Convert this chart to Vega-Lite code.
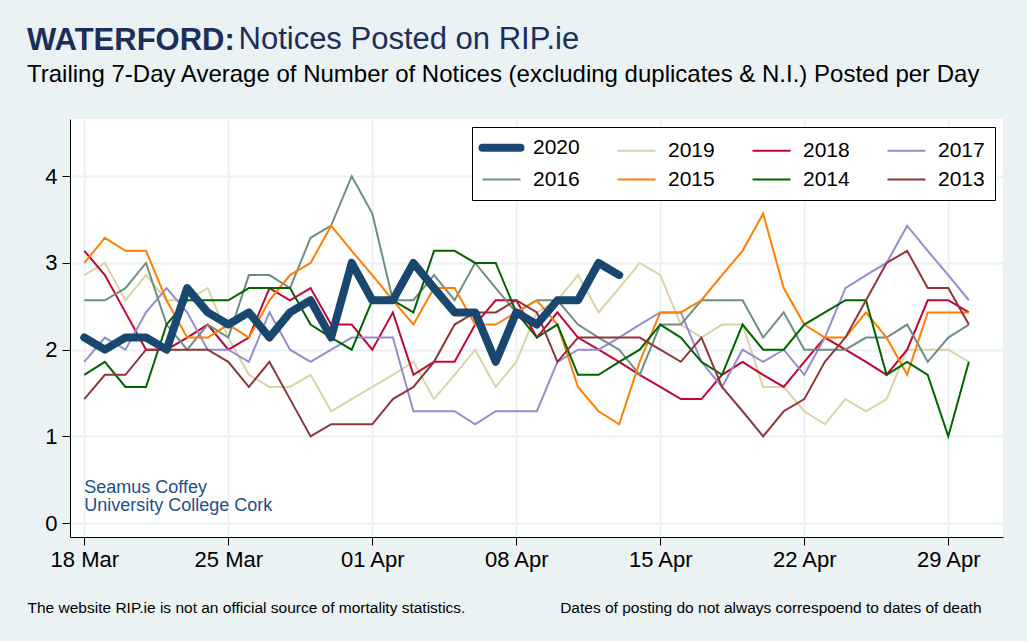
{
  "$schema": "https://vega.github.io/schema/vega-lite/v6.json",
  "width": 933,
  "height": 418,
  "autosize": {"type": "none"},
  "padding": {"left": 70, "top": 119, "right": 24, "bottom": 104},
  "background": "#eaf2f3",
  "title": {
    "text": "WATERFORD:",
    "subtitle": "Trailing 7-Day Average of Number of Notices (excluding duplicates & N.I.) Posted per Day",
    "anchor": "start",
    "frame": "group",
    "dx": -43,
    "offset": -65,
    "font": "Liberation Sans",
    "subtitleFont": "Liberation Sans",
    "fontSize": 31,
    "fontWeight": "bold",
    "color": "#1c2e5c",
    "subtitleFontSize": 24,
    "subtitleColor": "black",
    "subtitlePadding": 6
  },
  "datasets": {
    "notices": [
      {"date": "2020-03-18", "2020": 2.14, "2019": 2.86, "2018": 3.14, "2017": 1.86, "2016": 2.57, "2015": 3.00, "2014": 1.71, "2013": 1.43},
      {"date": "2020-03-19", "2020": 2.00, "2019": 3.00, "2018": 2.86, "2017": 2.14, "2016": 2.57, "2015": 3.29, "2014": 1.86, "2013": 1.71},
      {"date": "2020-03-20", "2020": 2.14, "2019": 2.57, "2018": 2.43, "2017": 2.00, "2016": 2.71, "2015": 3.14, "2014": 1.57, "2013": 1.71},
      {"date": "2020-03-21", "2020": 2.14, "2019": 2.86, "2018": 2.00, "2017": 2.43, "2016": 3.00, "2015": 3.14, "2014": 1.57, "2013": 2.00},
      {"date": "2020-03-22", "2020": 2.00, "2019": 2.57, "2018": 2.00, "2017": 2.71, "2016": 2.29, "2015": 2.57, "2014": 2.29, "2013": 2.00},
      {"date": "2020-03-23", "2020": 2.71, "2019": 2.57, "2018": 2.14, "2017": 2.43, "2016": 2.00, "2015": 2.14, "2014": 2.57, "2013": 2.00},
      {"date": "2020-03-24", "2020": 2.43, "2019": 2.71, "2018": 2.29, "2017": 2.00, "2016": 2.29, "2015": 2.14, "2014": 2.57, "2013": 2.00},
      {"date": "2020-03-25", "2020": 2.29, "2019": 2.14, "2018": 2.00, "2017": 2.00, "2016": 2.14, "2015": 2.29, "2014": 2.57, "2013": 1.86},
      {"date": "2020-03-26", "2020": 2.43, "2019": 1.71, "2018": 2.14, "2017": 1.86, "2016": 2.86, "2015": 2.14, "2014": 2.71, "2013": 1.57},
      {"date": "2020-03-27", "2020": 2.14, "2019": 1.57, "2018": 2.71, "2017": 2.43, "2016": 2.86, "2015": 2.57, "2014": 2.71, "2013": 1.86},
      {"date": "2020-03-28", "2020": 2.43, "2019": 1.57, "2018": 2.57, "2017": 2.00, "2016": 2.71, "2015": 2.86, "2014": 2.71, "2013": 1.43},
      {"date": "2020-03-29", "2020": 2.57, "2019": 1.71, "2018": 2.71, "2017": 1.86, "2016": 3.29, "2015": 3.00, "2014": 2.29, "2013": 1.00},
      {"date": "2020-03-30", "2020": 2.14, "2019": 1.29, "2018": 2.29, "2017": 2.00, "2016": 3.43, "2015": 3.43, "2014": 2.14, "2013": 1.14},
      {"date": "2020-03-31", "2020": 3.00, "2019": 1.43, "2018": 2.29, "2017": 2.14, "2016": 4.00, "2015": 3.14, "2014": 2.00, "2013": 1.14},
      {"date": "2020-04-01", "2020": 2.57, "2019": 1.57, "2018": 2.00, "2017": 2.14, "2016": 3.57, "2015": 2.86, "2014": 2.57, "2013": 1.14},
      {"date": "2020-04-02", "2020": 2.57, "2019": 1.71, "2018": 2.43, "2017": 2.14, "2016": 2.57, "2015": 2.57, "2014": 2.57, "2013": 1.43},
      {"date": "2020-04-03", "2020": 3.00, "2019": 1.86, "2018": 1.71, "2017": 1.29, "2016": 2.57, "2015": 2.29, "2014": 2.43, "2013": 1.57},
      {"date": "2020-04-04", "2020": 2.71, "2019": 1.43, "2018": 1.86, "2017": 1.29, "2016": 2.86, "2015": 2.71, "2014": 3.14, "2013": 1.86},
      {"date": "2020-04-05", "2020": 2.43, "2019": 1.71, "2018": 1.86, "2017": 1.29, "2016": 2.57, "2015": 2.71, "2014": 3.14, "2013": 2.29},
      {"date": "2020-04-06", "2020": 2.43, "2019": 2.00, "2018": 2.29, "2017": 1.14, "2016": 3.00, "2015": 2.29, "2014": 3.00, "2013": 2.43},
      {"date": "2020-04-07", "2020": 1.86, "2019": 1.57, "2018": 2.57, "2017": 1.29, "2016": 2.71, "2015": 2.29, "2014": 3.00, "2013": 2.43},
      {"date": "2020-04-08", "2020": 2.43, "2019": 1.86, "2018": 2.57, "2017": 1.29, "2016": 2.43, "2015": 2.43, "2014": 2.43, "2013": 2.57},
      {"date": "2020-04-09", "2020": 2.29, "2019": 2.43, "2018": 2.14, "2017": 1.29, "2016": 2.57, "2015": 2.57, "2014": 2.14, "2013": 2.43},
      {"date": "2020-04-10", "2020": 2.57, "2019": 2.57, "2018": 2.43, "2017": 1.86, "2016": 2.57, "2015": 2.29, "2014": 2.29, "2013": 1.86},
      {"date": "2020-04-11", "2020": 2.57, "2019": 2.86, "2018": 2.14, "2017": 2.00, "2016": 2.29, "2015": 1.57, "2014": 1.71, "2013": 2.14},
      {"date": "2020-04-12", "2020": 3.00, "2019": 2.43, "2018": 2.00, "2017": 2.00, "2016": 2.14, "2015": 1.29, "2014": 1.71, "2013": 2.14},
      {"date": "2020-04-13", "2020": 2.86, "2019": 2.71, "2018": 1.86, "2017": 2.14, "2016": 2.00, "2015": 1.14, "2014": 1.86, "2013": 2.14},
      {"date": "2020-04-14", "2019": 3.00, "2018": 1.71, "2017": 2.29, "2016": 1.71, "2015": 1.86, "2014": 2.00, "2013": 2.14},
      {"date": "2020-04-15", "2019": 2.86, "2018": 1.57, "2017": 2.43, "2016": 2.29, "2015": 2.43, "2014": 2.29, "2013": 2.00},
      {"date": "2020-04-16", "2019": 2.29, "2018": 1.43, "2017": 2.43, "2016": 2.29, "2015": 2.43, "2014": 2.14, "2013": 1.86},
      {"date": "2020-04-17", "2019": 2.14, "2018": 1.43, "2017": 1.86, "2016": 2.57, "2015": 2.57, "2014": 1.86, "2013": 2.14},
      {"date": "2020-04-18", "2019": 2.29, "2018": 1.71, "2017": 1.57, "2016": 2.57, "2015": 2.86, "2014": 1.71, "2013": 1.57},
      {"date": "2020-04-19", "2019": 2.29, "2018": 1.86, "2017": 2.00, "2016": 2.57, "2015": 3.14, "2014": 2.29, "2013": 1.29},
      {"date": "2020-04-20", "2019": 1.57, "2018": 1.71, "2017": 1.86, "2016": 2.14, "2015": 3.57, "2014": 2.00, "2013": 1.00},
      {"date": "2020-04-21", "2019": 1.57, "2018": 1.57, "2017": 2.00, "2016": 2.43, "2015": 2.71, "2014": 2.00, "2013": 1.29},
      {"date": "2020-04-22", "2019": 1.29, "2018": 1.86, "2017": 1.71, "2016": 2.00, "2015": 2.29, "2014": 2.29, "2013": 1.43},
      {"date": "2020-04-23", "2019": 1.14, "2018": 2.14, "2017": 2.14, "2016": 2.00, "2015": 2.14, "2014": 2.43, "2013": 1.86},
      {"date": "2020-04-24", "2019": 1.43, "2018": 2.00, "2017": 2.71, "2016": 2.00, "2015": 2.14, "2014": 2.57, "2013": 2.14},
      {"date": "2020-04-25", "2019": 1.29, "2018": 1.86, "2017": 2.86, "2016": 2.14, "2015": 2.43, "2014": 2.57, "2013": 2.57},
      {"date": "2020-04-26", "2019": 1.43, "2018": 1.71, "2017": 3.00, "2016": 2.14, "2015": 2.14, "2014": 1.71, "2013": 3.00},
      {"date": "2020-04-27", "2019": 2.00, "2018": 2.00, "2017": 3.43, "2016": 2.29, "2015": 1.71, "2014": 1.86, "2013": 3.14},
      {"date": "2020-04-28", "2019": 2.00, "2018": 2.57, "2017": 3.14, "2016": 1.86, "2015": 2.43, "2014": 1.71, "2013": 2.71},
      {"date": "2020-04-29", "2019": 2.00, "2018": 2.57, "2017": 2.86, "2016": 2.14, "2015": 2.43, "2014": 1.00, "2013": 2.71},
      {"date": "2020-04-30", "2019": 1.86, "2018": 2.43, "2017": 2.57, "2016": 2.29, "2015": 2.43, "2014": 1.86, "2013": 2.29}
    ],
    "credit": [
      {"line": "Seamus Coffey"},
      {"line": "University College Cork"}
    ]
  },
  "layer": [
    {
      "data": {"name": "notices"},
      "transform": [
        {"fold": ["2019", "2018", "2017", "2016", "2015", "2014", "2013"], "as": ["year", "value"]},
        {"filter": "isValid(datum.value)"}
      ],
      "mark": {"type": "line", "strokeWidth": 2},
      "encoding": {
        "x": {
          "field": "date",
          "type": "temporal",
          "scale": {
            "type": "utc",
            "domain": [
              {"year": 2020, "month": 3, "date": 17, "hours": 7, "minutes": 19, "utc": true},
              {"year": 2020, "month": 5, "date": 1, "hours": 15, "minutes": 50, "utc": true}
            ]
          },
          "axis": {
            "values": [
              {"year": 2020, "month": 3, "date": 18, "utc": true},
              {"year": 2020, "month": 3, "date": 25, "utc": true},
              {"year": 2020, "month": 4, "date": 1, "utc": true},
              {"year": 2020, "month": 4, "date": 8, "utc": true},
              {"year": 2020, "month": 4, "date": 15, "utc": true},
              {"year": 2020, "month": 4, "date": 22, "utc": true},
              {"year": 2020, "month": 4, "date": 29, "utc": true}
            ],
            "format": "%d %b",
            "labelFontSize": 22,
            "labelPadding": 4,
            "title": "The website RIP.ie is not an official source of mortality statistics.\u00a0\u00a0\u00a0\u00a0\u00a0\u00a0\u00a0\u00a0\u00a0\u00a0\u00a0\u00a0\u00a0\u00a0\u00a0\u00a0\u00a0\u00a0\u00a0\u00a0\u00a0\u00a0Dates of posting do not always correspoend to dates of death",
            "titleFontSize": 15.5,
            "titleFontWeight": "normal",
            "titleColor": "black",
            "titleX": -43,
            "titleY": 75,
            "titleAlign": "left",
            "titleAnchor": "start",
            "titleBaseline": "alphabetic"
          }
        },
        "y": {
          "field": "value",
          "type": "quantitative",
          "scale": {"domain": [-0.16, 4.66], "nice": false, "zero": false},
          "axis": {
            "values": [0, 1, 2, 3, 4],
            "format": "d",
            "labelFontSize": 22,
            "labelPadding": 5,
            "title": "Notices Posted on RIP.ie",
            "titleFontSize": 31,
            "titleFontWeight": "normal",
            "titleColor": "#1c2e5c",
            "titleAngle": 0,
            "titleX": 168,
            "titleY": -71,
            "titleAlign": "left",
            "titleBaseline": "alphabetic"
          }
        },
        "color": {
          "field": "year",
          "type": "nominal",
          "scale": {
            "domain": ["2020", "2019", "2018", "2017", "2016", "2015", "2014", "2013"],
            "range": ["#1a476f", "#d9d3a6", "#c10534", "#938dd2", "#6e8e84", "#ff7f00", "#006400", "#90353b"]
          },
          "legend": {
            "title": null,
            "symbolType": "M-1.9,0H1.9",
            "symbolSize": 400,
            "symbolOffset": 9,
            "symbolStrokeWidth": 2,
            "encode": {
              "symbols": {
                "update": {
                  "strokeWidth": {"signal": "datum.value === '2020' ? 8 : 2"},
                  "strokeCap": {"signal": "datum.value === '2020' ? 'round' : 'butt'"}
                }
              }
            }
          }
        }
      }
    },
    {
      "data": {"name": "notices"},
      "transform": [
        {"fold": ["2020"], "as": ["year", "value"]},
        {"filter": "isValid(datum.value)"}
      ],
      "mark": {"type": "line", "strokeWidth": 8, "strokeCap": "round", "strokeJoin": "round"},
      "encoding": {
        "x": {"field": "date", "type": "temporal"},
        "y": {"field": "value", "type": "quantitative"},
        "color": {"field": "year", "type": "nominal"}
      }
    },
    {
      "data": {"name": "credit"},
      "transform": [{"filter": "datum.line == 'Seamus Coffey'"}],
      "mark": {"type": "text", "align": "left", "baseline": "alphabetic", "fontSize": 18, "color": "#1f4f8a"},
      "encoding": {
        "x": {"datum": {"year": 2020, "month": 3, "date": 18, "utc": true}, "type": "temporal"},
        "y": {"datum": 0.35, "type": "quantitative"},
        "text": {"field": "line"}
      }
    },
    {
      "data": {"name": "credit"},
      "transform": [{"filter": "datum.line == 'University College Cork'"}],
      "mark": {"type": "text", "align": "left", "baseline": "alphabetic", "fontSize": 18, "color": "#1f4f8a"},
      "encoding": {
        "x": {"datum": {"year": 2020, "month": 3, "date": 18, "utc": true}, "type": "temporal"},
        "y": {"datum": 0.14, "type": "quantitative"},
        "text": {"field": "line"}
      }
    }
  ],
  "config": {
    "font": "Liberation Sans",
    "view": {"fill": "white", "stroke": null},
    "axis": {
      "labelColor": "black",
      "labelFont": "Liberation Sans",
      "titleFont": "Liberation Sans",
      "tickColor": "black",
      "tickSize": 8,
      "domainColor": "black",
      "gridColor": "#eaf2f3",
      "gridWidth": 2
    },
    "legend": {
      "orient": "top-right",
      "offset": 8,
      "direction": "horizontal",
      "columns": 4,
      "fillColor": "white",
      "strokeColor": "black",
      "padding": 10,
      "columnPadding": 33,
      "rowPadding": 4,
      "labelFontSize": 21,
      "labelColor": "black",
      "labelOffset": 21,
      "labelFont": "Liberation Sans",
      "cornerRadius": 0
    }
  }
}
